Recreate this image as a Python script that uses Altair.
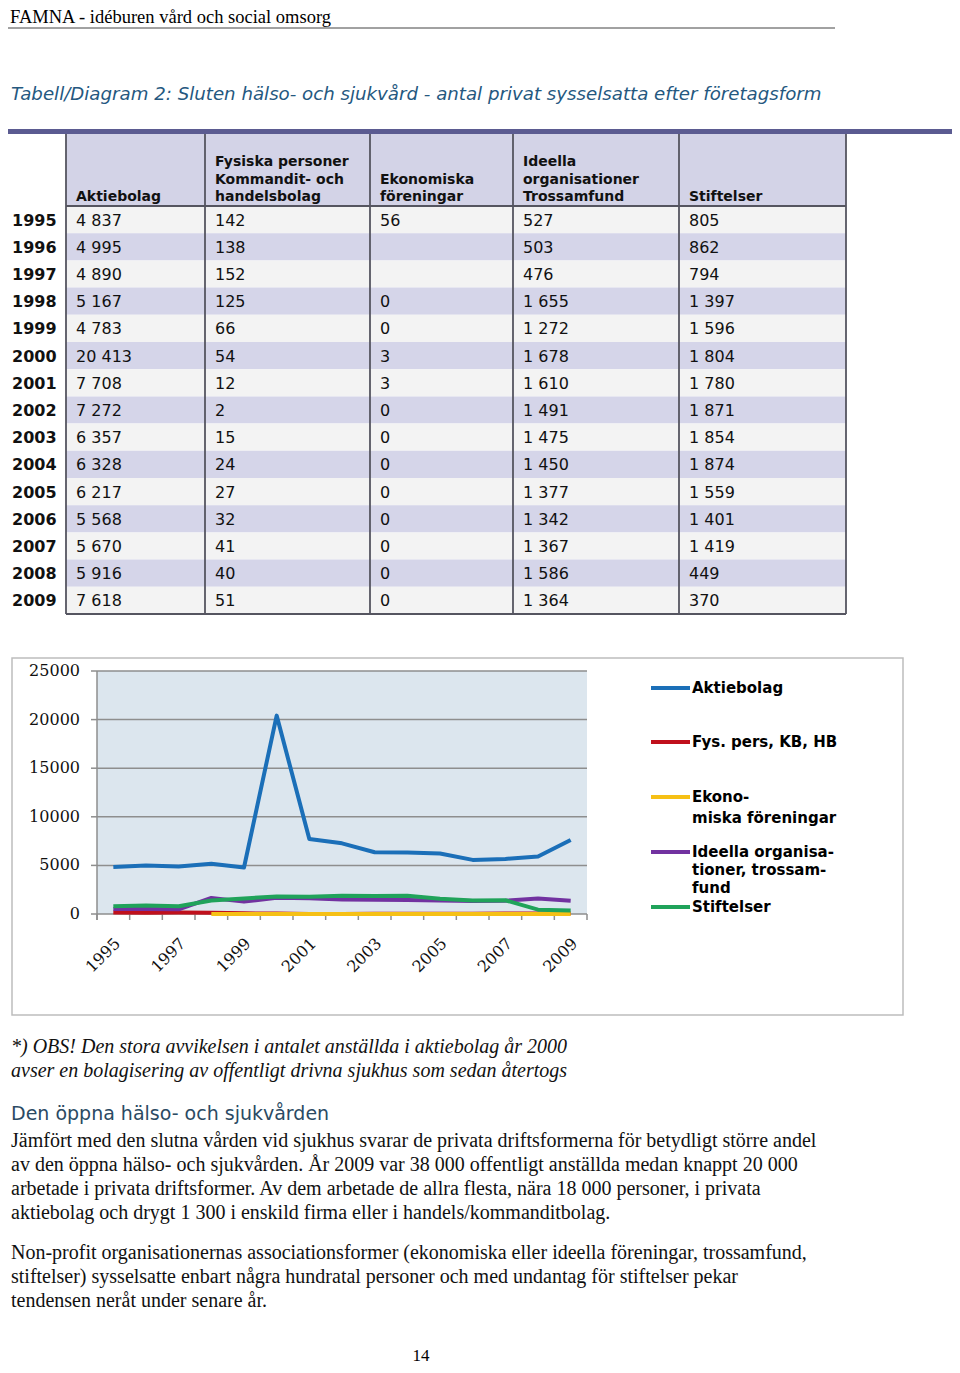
import altair as alt
import pandas as pd

# ---------------- data ----------------
years = list(range(1995, 2010))
aktiebolag = [4837, 4995, 4890, 5167, 4783, 20413, 7708, 7272, 6357, 6328, 6217, 5568, 5670, 5916, 7618]
fysiska = [142, 138, 152, 125, 66, 54, 12, 2, 15, 24, 27, 32, 41, 40, 51]
ekonomiska = [56, None, None, 0, 0, 3, 3, 0, 0, 0, 0, 0, 0, 0, 0]
ideella = [527, 503, 476, 1655, 1272, 1678, 1610, 1491, 1475, 1450, 1377, 1342, 1367, 1586, 1364]
stiftelser = [805, 862, 794, 1397, 1596, 1804, 1780, 1871, 1854, 1874, 1559, 1401, 1419, 449, 370]

table_headers = [
    ["Aktiebolag"],
    ["Fysiska personer", "Kommandit- och", "handelsbolag"],
    ["Ekonomiska", "föreningar"],
    ["Ideella", "organisationer", "Trossamfund"],
    ["Stiftelser"],
]
series_names = ["Aktiebolag", "Fys. pers, KB, HB", "Ekonomiska föreningar",
                "Ideella organisationer, trossamfund", "Stiftelser"]
legend_lines = [["Aktiebolag"], ["Fys. pers, KB, HB"], ["Ekono-", "miska föreningar"],
                ["Ideella organisa-", "tioner, trossam-", "fund"], ["Stiftelser"]]
series_colors = ["#1b6fb8", "#c0101c", "#f6c015", "#7232a0", "#20a35a"]
y_ticks = [0, 5000, 10000, 15000, 20000, 25000]
x_label_years = [1995, 1997, 1999, 2001, 2003, 2005, 2007, 2009]

header_text = "FAMNA - idéburen vård och social omsorg"
title_text = "Tabell/Diagram 2: Sluten hälso- och sjukvård - antal privat sysselsatta efter företagsform"
footnote_lines = [
    "*) OBS! Den stora avvikelsen i antalet anställda i aktiebolag år 2000",
    "avser en bolagisering av offentligt drivna sjukhus som sedan återtogs",
]
heading_text = "Den öppna hälso- och sjukvården"
para1 = [
    "Jämfört med den slutna vården vid sjukhus svarar de privata driftsformerna för betydligt större andel",
    "av den öppna hälso- och sjukvården. År 2009 var 38 000 offentligt anställda medan knappt 20 000",
    "arbetade i privata driftsformer. Av dem arbetade de allra flesta, nära 18 000 personer, i privata",
    "aktiebolag och drygt 1 300 i enskild firma eller i handels/kommanditbolag.",
]
para2 = [
    "Non-profit organisationernas associationsformer (ekonomiska eller ideella föreningar, trossamfund,",
    "stiftelser) sysselsatte enbart några hundratal personer och med undantag för stiftelser pekar",
    "tendensen neråt under senare år.",
]
page_number = "14"

# ---------------- layout ----------------
W, H = 944, 1357
M = 8


def px(x):
    return x - M


def py(y):
    return y - M


COL_EDGES = [66, 205, 370, 513, 679, 846]
TABLE_TOP, HEAD_BOTTOM, TABLE_BOTTOM = 134, 206, 614
PLOT_L, PLOT_R, PLOT_T, PLOT_B = 97, 587, 671, 914
LEG_Y = [688, 742, 797, 852, 907]

one = pd.DataFrame({"k": [0]})
layers = []


def txt(s, x, y, size, font, color="#000000", weight="normal", style="normal",
        align="left", baseline="alphabetic"):
    return alt.Chart(one).mark_text(
        text=s, font=font, fontSize=size, fontWeight=weight, fontStyle=style,
        color=color, align=align, baseline=baseline
    ).encode(x=alt.value(px(x)), y=alt.value(py(y)))


def hline(x1, x2, y, color, w):
    return alt.Chart(one).mark_rule(color=color, strokeWidth=w).encode(
        x=alt.value(px(x1)), x2=alt.value(px(x2)), y=alt.value(py(y)))


def vline(x, y1, y2, color, w):
    return alt.Chart(one).mark_rule(color=color, strokeWidth=w).encode(
        x=alt.value(px(x)), y=alt.value(py(y1)), y2=alt.value(py(y2)))


def box(x1, y1, x2, y2, fill, stroke="#ffffff", sw=0, fo=1):
    return alt.Chart(one).mark_rect(fill=fill, fillOpacity=fo, stroke=stroke, strokeWidth=sw).encode(
        x=alt.value(px(x1)), x2=alt.value(px(x2)), y=alt.value(py(y1)), y2=alt.value(py(y2)))


# header
layers.append(txt(header_text, 10, 8, 18.5, "Liberation Serif", baseline="top"))
layers.append(hline(8, 835, 28, "#444444", 1))
# title
layers.append(txt(title_text, 11, 100, 18.2, "DejaVu Sans", color="#25587f", style="italic"))

# ---------------- table ----------------
def fmt(v):
    if v is None:
        return ""
    return f"{v:,}".replace(",", " ")


cols = [aktiebolag, fysiska, ekonomiska, ideella, stiftelser]
table_df = pd.DataFrame({"year": years})
for i, c in enumerate(cols):
    table_df[f"c{i}"] = [fmt(v) for v in c]

yb = alt.Scale(type="band", domain=years, range=[py(HEAD_BOTTOM), py(TABLE_BOTTOM)],
               paddingInner=0, paddingOuter=0)

layers.append(box(8, 129, 952, TABLE_TOP, "#5b5b91"))
layers.append(box(COL_EDGES[0], TABLE_TOP, COL_EDGES[-1], HEAD_BOTTOM, "#d3d3e7"))
layers.append(
    alt.Chart(table_df).mark_rect().encode(
        y=alt.Y("year:O", scale=yb, axis=None),
        x=alt.value(px(COL_EDGES[0])), x2=alt.value(px(COL_EDGES[-1])),
        color=alt.condition("datum.year % 2 == 1", alt.value("#f3f3f3"), alt.value("#d5d5e9")),
    )
)
for xe in COL_EDGES:
    layers.append(vline(xe, TABLE_TOP, TABLE_BOTTOM, "#555560", 1.8))
layers.append(hline(COL_EDGES[0], COL_EDGES[-1], HEAD_BOTTOM, "#555560", 1.8))
layers.append(hline(COL_EDGES[0], COL_EDGES[-1], TABLE_BOTTOM, "#555560", 1.8))

header_baselines = [166, 184, 201]
for i, lines in enumerate(table_headers):
    n = len(lines)
    for j, line in enumerate(lines):
        layers.append(txt(line, COL_EDGES[i] + 10, header_baselines[3 - n + j], 14,
                          "DejaVu Sans", color="#111111", weight="bold"))

layers.append(
    alt.Chart(table_df).mark_text(align="left", baseline="middle", font="DejaVu Sans",
                                  fontSize=16, fontWeight="bold", color="#111111", dy=1).encode(
        y=alt.Y("year:O", scale=yb, axis=None), x=alt.value(px(12)), text="year:N")
)
for i in range(len(cols)):
    layers.append(
        alt.Chart(table_df).mark_text(align="left", baseline="middle", font="DejaVu Sans",
                                      fontSize=16, color="#111111", dy=1).encode(
            y=alt.Y("year:O", scale=yb, axis=None), x=alt.value(px(COL_EDGES[i] + 10)),
            text=f"c{i}:N")
    )

# ---------------- line chart ----------------
xs = alt.Scale(domain=[1994.5, 2009.5], range=[px(PLOT_L), px(PLOT_R)], nice=False, zero=False)
ys = alt.Scale(domain=[0, 25000], range=[py(PLOT_B), py(PLOT_T)], nice=False)
cs = alt.Scale(domain=series_names, range=series_colors)

layers.append(box(12, 658, 903, 1015, "#ffffff", stroke="#bdbdbd", sw=1.5, fo=0))
layers.append(box(PLOT_L, PLOT_T, PLOT_R, PLOT_B, "#dce6ee"))

tick_df = pd.DataFrame({"v": y_ticks})
layers.append(
    alt.Chart(tick_df).mark_rule(color="#8e8e8e", strokeWidth=1.5).encode(
        y=alt.Y("v:Q", scale=ys, axis=None), x=alt.value(px(PLOT_L)), x2=alt.value(px(PLOT_R)))
)
layers.append(
    alt.Chart(tick_df).mark_rule(color="#8e8e8e", strokeWidth=1.5).encode(
        y=alt.Y("v:Q", scale=ys, axis=None), x=alt.value(px(91)), x2=alt.value(px(PLOT_L)))
)
layers.append(
    alt.Chart(tick_df).mark_text(align="right", baseline="middle", font="DejaVu Serif",
                                 fontSize=16, color="#111111").encode(
        y=alt.Y("v:Q", scale=ys, axis=None), x=alt.value(px(80)), text="v:N")
)
layers.append(vline(PLOT_L, PLOT_T, PLOT_B + 6, "#8e8e8e", 1.5))

bound_df = pd.DataFrame({"b": [y - 0.5 for y in years] + [years[-1] + 0.5]})
layers.append(
    alt.Chart(bound_df).mark_rule(color="#8e8e8e", strokeWidth=1.5).encode(
        x=alt.X("b:Q", scale=xs, axis=None), y=alt.value(py(PLOT_B)), y2=alt.value(py(PLOT_B + 6)))
)
xlab_df = pd.DataFrame({"year": x_label_years, "label": [str(y) for y in x_label_years]})
layers.append(
    alt.Chart(xlab_df).mark_text(align="right", baseline="middle", angle=315, font="DejaVu Serif",
                                 fontSize=16, color="#111111", dx=3, dy=3).encode(
        x=alt.X("year:Q", scale=xs, axis=None), y=alt.value(py(941)), text="label:N")
)

long_rows = []
for name, vals in zip(series_names, cols):
    for y, v in zip(years, vals):
        long_rows.append({"year": y, "series": name, "value": v})
long_df = pd.DataFrame(long_rows)
layers.append(
    alt.Chart(long_df).mark_line(strokeWidth=4, strokeJoin="round").encode(
        x=alt.X("year:Q", scale=xs, axis=None),
        y=alt.Y("value:Q", scale=ys, axis=None),
        color=alt.Color("series:N", scale=cs, legend=None),
        detail="series:N",
    )
)

# legend
for k, name in enumerate(series_names):
    layers.append(hline(651, 690, LEG_Y[k], series_colors[k], 4))
    for j, line in enumerate(legend_lines[k]):
        step = 21 if k == 2 else 18
        layers.append(txt(line, 692, LEG_Y[k] + j * step, 15, "DejaVu Sans", weight="bold",
                          baseline="middle"))

# ---------------- text below ----------------
for j, line in enumerate(footnote_lines):
    layers.append(txt(line, 11, 1053 + 24 * j, 20, "Liberation Serif", style="italic", color="#111111"))
layers.append(txt(heading_text, 11, 1120, 19, "DejaVu Sans", color="#2b4a63"))
for j, line in enumerate(para1):
    layers.append(txt(line, 11, 1147 + 24 * j, 20, "Liberation Serif", color="#111111"))
for j, line in enumerate(para2):
    layers.append(txt(line, 11, 1259 + 24 * j, 20, "Liberation Serif", color="#111111"))
layers.append(txt(page_number, 421, 1361, 17, "Liberation Serif", align="center"))

chart = alt.layer(*layers).resolve_scale(
    x="independent", y="independent", color="independent"
).properties(
    width=W, height=H, padding=0, background="#ffffff",
    autosize=alt.AutoSizeParams(type="none"),
).configure_view(stroke=None)

chart.save("out.html", embed_options={"renderer": "svg", "actions": False})
